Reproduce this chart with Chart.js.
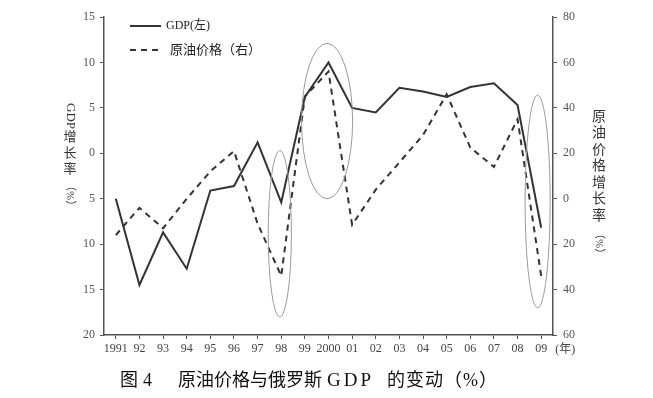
<!DOCTYPE html>
<html>
<head>
<meta charset="utf-8">
<script src="https://cdn.jsdelivr.net/npm/chart.js@4/dist/chart.umd.min.js"></script>
<style>
    html, body { margin: 0; padding: 0; background: #fff; }
    #wrap { width: 653px; height: 398px; }
</style>
</head>
<body>
<div id="wrap"><canvas id="gdpOilChart" width="653" height="398"></canvas></div>
<script>
const years = ['1991', '92', '93', '94', '95', '96', '97', '98', '99', '2000',
               '01', '02', '03', '04', '05', '06', '07', '08', '09'];
const gdpGrowth = [-5.0, -14.5, -8.7, -12.7, -4.1, -3.6, 1.2, -5.4, 6.2, 10.0,
                   5.0, 4.5, 7.2, 6.8, 6.2, 7.3, 7.7, 5.3, -8.2];
const oilGrowth = [-16, -4, -13, 0, 12, 21, -11, -34, 45, 56,
                   -11.5, 4, 16, 28, 46, 22.5, 14, 35, -34];
// tick labels as printed in the figure
const leftTicks = ['15', '10', '5', '0', '5', '10', '15', '20'];
const rightTicks = ['80', '60', '40', '20', '0', '20', '40', '60'];
// grey circles drawn by the author: year (+shift), top and bottom on the left axis
const circled = [
    { year: '98', shift: -0.06, top: 0.3, bottom: -18, half: 0.49 },
    { year: '2000', shift: -0.06, top: 12.1, bottom: -5, half: 1.08 },
    { year: '09', shift: -0.15, top: 6.4, bottom: -17, half: 0.53 }
];

const serif = '"Liberation Serif", "Noto Sans CJK SC", serif';
const ink = '#333';

const decorations = {
    id: 'decorations',
    afterDatasetsDraw(chart) {
        const ctx = chart.ctx;
        const x = chart.scales.x;
        const y = chart.scales.y;
        const step = x.getPixelForValue(1) - x.getPixelForValue(0);

        ctx.save();
        ctx.strokeStyle = '#9a9a9a';
        ctx.lineWidth = 1;
        circled.forEach(c => {
            const cx = x.getPixelForValue(years.indexOf(c.year)) + c.shift * step;
            const yt = y.getPixelForValue(c.top);
            const yb = y.getPixelForValue(c.bottom);
            ctx.beginPath();
            ctx.ellipse(cx, (yt + yb) / 2, c.half * step, (yb - yt) / 2, 0, 0, Math.PI * 2);
            ctx.stroke();
        });

        // legend
        const ds = chart.data.datasets;
        ctx.strokeStyle = ink;
        ctx.lineWidth = 2;
        ctx.beginPath();
        ctx.moveTo(130, 26); ctx.lineTo(161, 26);
        ctx.stroke();
        ctx.setLineDash([6, 5]);
        ctx.beginPath();
        ctx.moveTo(130, 50); ctx.lineTo(160, 50);
        ctx.stroke();
        ctx.setLineDash([]);
        ctx.fillStyle = '#222';
        ctx.font = '12px ' + serif;
        ctx.textBaseline = 'middle';
        ctx.textAlign = 'left';
        ctx.fillText(ds[0].label, 166, 26);
        ctx.font = '13px ' + serif;
        ctx.fillText(ds[1].label, 170, 51);

        // year unit after last tick
        ctx.font = '12px ' + serif;
        ctx.fillStyle = '#444';
        ctx.fillText('(年)', x.getPixelForValue(years.length - 1) + 14, 350);

        // left title, vertical
        ctx.fillStyle = '#333';
        ctx.font = '13px ' + serif;
        ctx.save();
        ctx.translate(70, 103);
        ctx.rotate(Math.PI / 2);
        ctx.textAlign = 'left';
        ctx.fillText('GDP', 0, 0);
        ctx.restore();
        ctx.textAlign = 'center';
        ['增', '长', '率'].forEach((ch, i) => ctx.fillText(ch, 70, 138 + i * 16));
        ctx.save();
        ctx.translate(70, 180);
        ctx.rotate(Math.PI / 2);
        ctx.textAlign = 'left';
        ctx.font = '11px ' + serif;
        ctx.fillText('（%）', 0, 0);
        ctx.restore();

        // right title, vertical
        ctx.font = '14px ' + serif;
        ctx.textAlign = 'center';
        ['原', '油', '价', '格', '增', '长', '率'].forEach((ch, i) => ctx.fillText(ch, 599, 117 + i * 16.5));
        ctx.save();
        ctx.translate(599, 228);
        ctx.rotate(Math.PI / 2);
        ctx.textAlign = 'left';
        ctx.font = '11px ' + serif;
        ctx.fillText('（%）', 0, 0);
        ctx.restore();

        // caption
        ctx.fillStyle = '#111';
        ctx.textAlign = 'left';
        ctx.font = '18px ' + serif;
        ctx.fillText('图', 120, 381);
        ctx.fillText('4', 143, 381);
        ctx.fillText('原油价格与俄罗斯', 178, 381);
        ctx.font = '19px ' + serif;
        ctx.letterSpacing = '3px';
        ctx.fillText('GDP', 327, 381);
        ctx.letterSpacing = '1px';
        ctx.font = '18px ' + serif;
        ctx.fillText('的变动（%）', 387, 381);
        ctx.restore();
    }
};

const ctx = document.getElementById('gdpOilChart').getContext('2d');
new Chart(ctx, {
    type: 'line',
    data: {
        labels: years,
        datasets: [{
            label: 'GDP(左)',
            data: gdpGrowth,
            borderColor: ink,
            borderWidth: 2,
            pointRadius: 0,
            tension: 0,
            yAxisID: 'y'
        }, {
            label: '原油价格（右）',
            data: oilGrowth,
            borderColor: ink,
            borderWidth: 2,
            borderDash: [6, 5],
            pointRadius: 0,
            tension: 0,
            yAxisID: 'y1'
        }]
    },
    options: {
        responsive: false,
        animation: false,
        events: [],
        layout: { padding: { top: 17, left: 0, right: 0, bottom: 0 } },
        plugins: {
            legend: { display: false },
            tooltip: { enabled: false },
            title: { display: false }
        },
        scales: {
            x: {
                offset: true,
                grid: { drawOnChartArea: false, tickLength: 4, color: '#555' },
                border: { color: '#555', width: 1.5 },
                ticks: {
                    color: '#444',
                    font: { family: serif, size: 12 },
                    maxRotation: 0,
                    autoSkip: false,
                    padding: 3
                },
                afterFit(scale) { scale.height = 63; }
            },
            y: {
                position: 'left',
                min: -20,
                max: 15,
                grid: { drawOnChartArea: false, tickLength: 4, color: '#555' },
                border: { color: '#555', width: 1.5 },
                ticks: {
                    stepSize: 5,
                    color: '#555',
                    font: { family: serif, size: 12 },
                    padding: 5,
                    callback: (v) => leftTicks[(15 - v) / 5]
                },
                afterFit(scale) { scale.width = 104; }
            },
            y1: {
                position: 'right',
                min: -60,
                max: 80,
                grid: { drawOnChartArea: false, tickLength: 4, color: '#555' },
                border: { color: '#555', width: 1.5 },
                ticks: {
                    stepSize: 20,
                    color: '#555',
                    font: { family: serif, size: 12 },
                    padding: 6,
                    callback: (v) => rightTicks[(80 - v) / 20]
                },
                afterFit(scale) { scale.width = 100; }
            }
        }
    },
    plugins: [decorations]
});
</script>
</body>
</html>
